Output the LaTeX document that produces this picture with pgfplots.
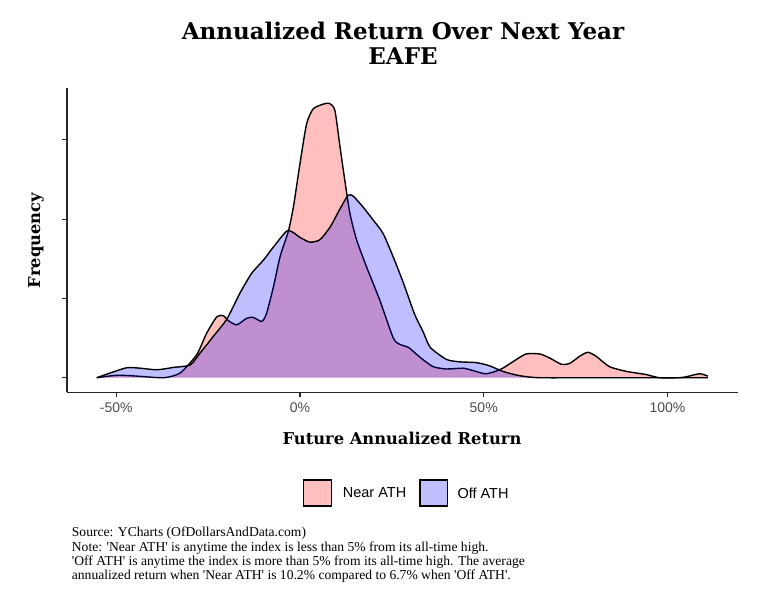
\documentclass[border=0pt]{standalone}
\usepackage{fontspec}
\setmainfont{Liberation Serif}
\newfontfamily\sansfont{Liberation Sans}
\newfontfamily\titlefont{DejaVu Serif}
\usepackage{pgfplots}
\usepackage{pgfplotstable}
\pgfplotsset{compat=1.18}
\definecolor{nearfill}{RGB}{255,191,191}
\definecolor{offfill}{RGB}{191,191,255}
\definecolor{ticktext}{RGB}{77,77,77}

\pgfplotstableread{
x y
-55.3 0.00
-50.0 0.03
-46.0 0.025
-43.5 0.017
-37.0 0.00
-32.6 0.06
-28.1 0.29
-25.4 0.56
-22.6 0.77
-20.8 0.78
-19.5 0.72
-17.2 0.667
-14.5 0.75
-12.7 0.76
-10.4 0.71
-9.1 0.81
-7.2 1.15
-5.4 1.53
-3.2 1.84
-1.8 2.15
0.0 2.70
1.8 3.20
3.6 3.39
6.3 3.45
8.0 3.46
9.5 3.37
10.9 2.91
12.2 2.49
13.6 2.07
15.4 1.74
18.1 1.40
21.7 0.98
25.4 0.50
27.2 0.42
29.6 0.38
32.6 0.26
36.2 0.14
39.9 0.11
44.4 0.12
47.1 0.09
50.3 0.05
52.5 0.07
55.2 0.12
58.9 0.23
61.6 0.30
65.2 0.30
67.9 0.25
71.1 0.17
73.4 0.18
76.1 0.27
78.3 0.32
80.6 0.27
84.2 0.14
88.8 0.08
94.2 0.04
97.8 0.0
103.3 0.0
105.0 0.01
108.7 0.05
111.0 0.02
}\nearath

\pgfplotstableread{
x y
-55.3 0.00
-51.6 0.06
-47.1 0.126
-43.5 0.12
-38.9 0.10
-34.4 0.13
-29.9 0.16
-27.2 0.31
-23.6 0.52
-19.9 0.74
-16.3 1.07
-13.1 1.32
-10.0 1.48
-7.2 1.65
-3.6 1.85
-1.8 1.83
0.0 1.77
2.7 1.71
5.4 1.74
8.2 1.90
10.9 2.13
13.1 2.30
14.5 2.29
17.2 2.15
19.9 1.99
22.6 1.82
25.4 1.52
28.1 1.20
31.2 0.80
33.5 0.58
35.5 0.38
39.9 0.23
43.5 0.20
48.0 0.19
51.6 0.15
55.2 0.08
59.8 0.025
65.2 0.0
80.0 0.0
111.0 0.0
}\offath

\begin{document}
\begin{tikzpicture}[x=1pt,y=1pt]
\path[use as bounding box] (0,0) rectangle (761,599);
\begin{axis}[
  at={(67pt,206.7pt)}, anchor=south west,
  scale only axis, width=671pt, height=304pt,
  xmin=-63.4, xmax=119.2, ymin=-0.184, ymax=3.65,
  axis x line*=bottom, axis y line*=left,
  axis line style={-, line width=1.3pt, black!85},
  xtick={-50,0,50,100},
  xticklabels={-50\%,0\%,50\%,100\%},
  ytick={0,1,2,3}, yticklabels={},
  tick align=outside, major tick length=5pt,
  tick style={line width=1.1pt, black!85},
  xticklabel style={font=\sansfont\fontsize{14}{14}\selectfont, text=ticktext, yshift=-2pt},
  clip=false,
]
\addplot[draw=none, fill=red, fill opacity=0.25, smooth, tension=0.4, forget plot] table {\nearath} \closedcycle;
\addplot[black, line width=1.4pt, smooth, tension=0.4] table {\nearath};
\addplot[draw=none, fill=blue, fill opacity=0.25, smooth, tension=0.4, forget plot] table {\offath} \closedcycle;
\addplot[black, line width=1.4pt, smooth, tension=0.4] table {\offath};
\end{axis}
% titles
\node[anchor=base, font=\titlefont\bfseries\fontsize{23}{27}\selectfont] at (403,559) {Annualized Return Over Next Year};
\node[anchor=base, font=\titlefont\bfseries\fontsize{23}{27}\selectfont] at (403,534.7) {EAFE};
\node[anchor=base, font=\titlefont\bfseries\fontsize{16.3}{19}\selectfont] at (402,154) {Future Annualized Return};
\node[anchor=base, rotate=90, font=\titlefont\bfseries\fontsize{16.3}{19}\selectfont] at (40,358.5) {Frequency};
% legend
\draw[fill=nearfill, draw=black, line width=1.1pt] (303.3,93) rectangle (331.7,119);
\node[anchor=west, inner sep=0pt, font=\sansfont\fontsize{14.5}{16}\selectfont] at (342.7,106) {Near ATH};
\draw[fill=offfill, draw=black, line width=1.1pt] (420,93) rectangle (447.7,119);
\node[anchor=west, inner sep=0pt, font=\sansfont\fontsize{14.5}{16}\selectfont] at (457.3,106) {Off ATH};
% caption
\begin{scope}[every node/.style={anchor=base west, inner sep=0pt, font=\fontsize{13.6}{15}\selectfont}]
\node at (71.7,62) {Source: YCharts (OfDollarsAndData.com)};
\node at (71.7,47.5) {Note: \textquotesingle Near ATH\textquotesingle{} is anytime the index is less than 5\% from its all-time high.};
\node at (71.7,33.2) {\textquotesingle Off ATH\textquotesingle{} is anytime the index is more than 5\% from its all-time high. The average};
\node at (71.7,19) {annualized return when \textquotesingle Near ATH\textquotesingle{} is 10.2\% compared to 6.7\% when \textquotesingle Off ATH\textquotesingle.};
\end{scope}
\end{tikzpicture}
\end{document}
